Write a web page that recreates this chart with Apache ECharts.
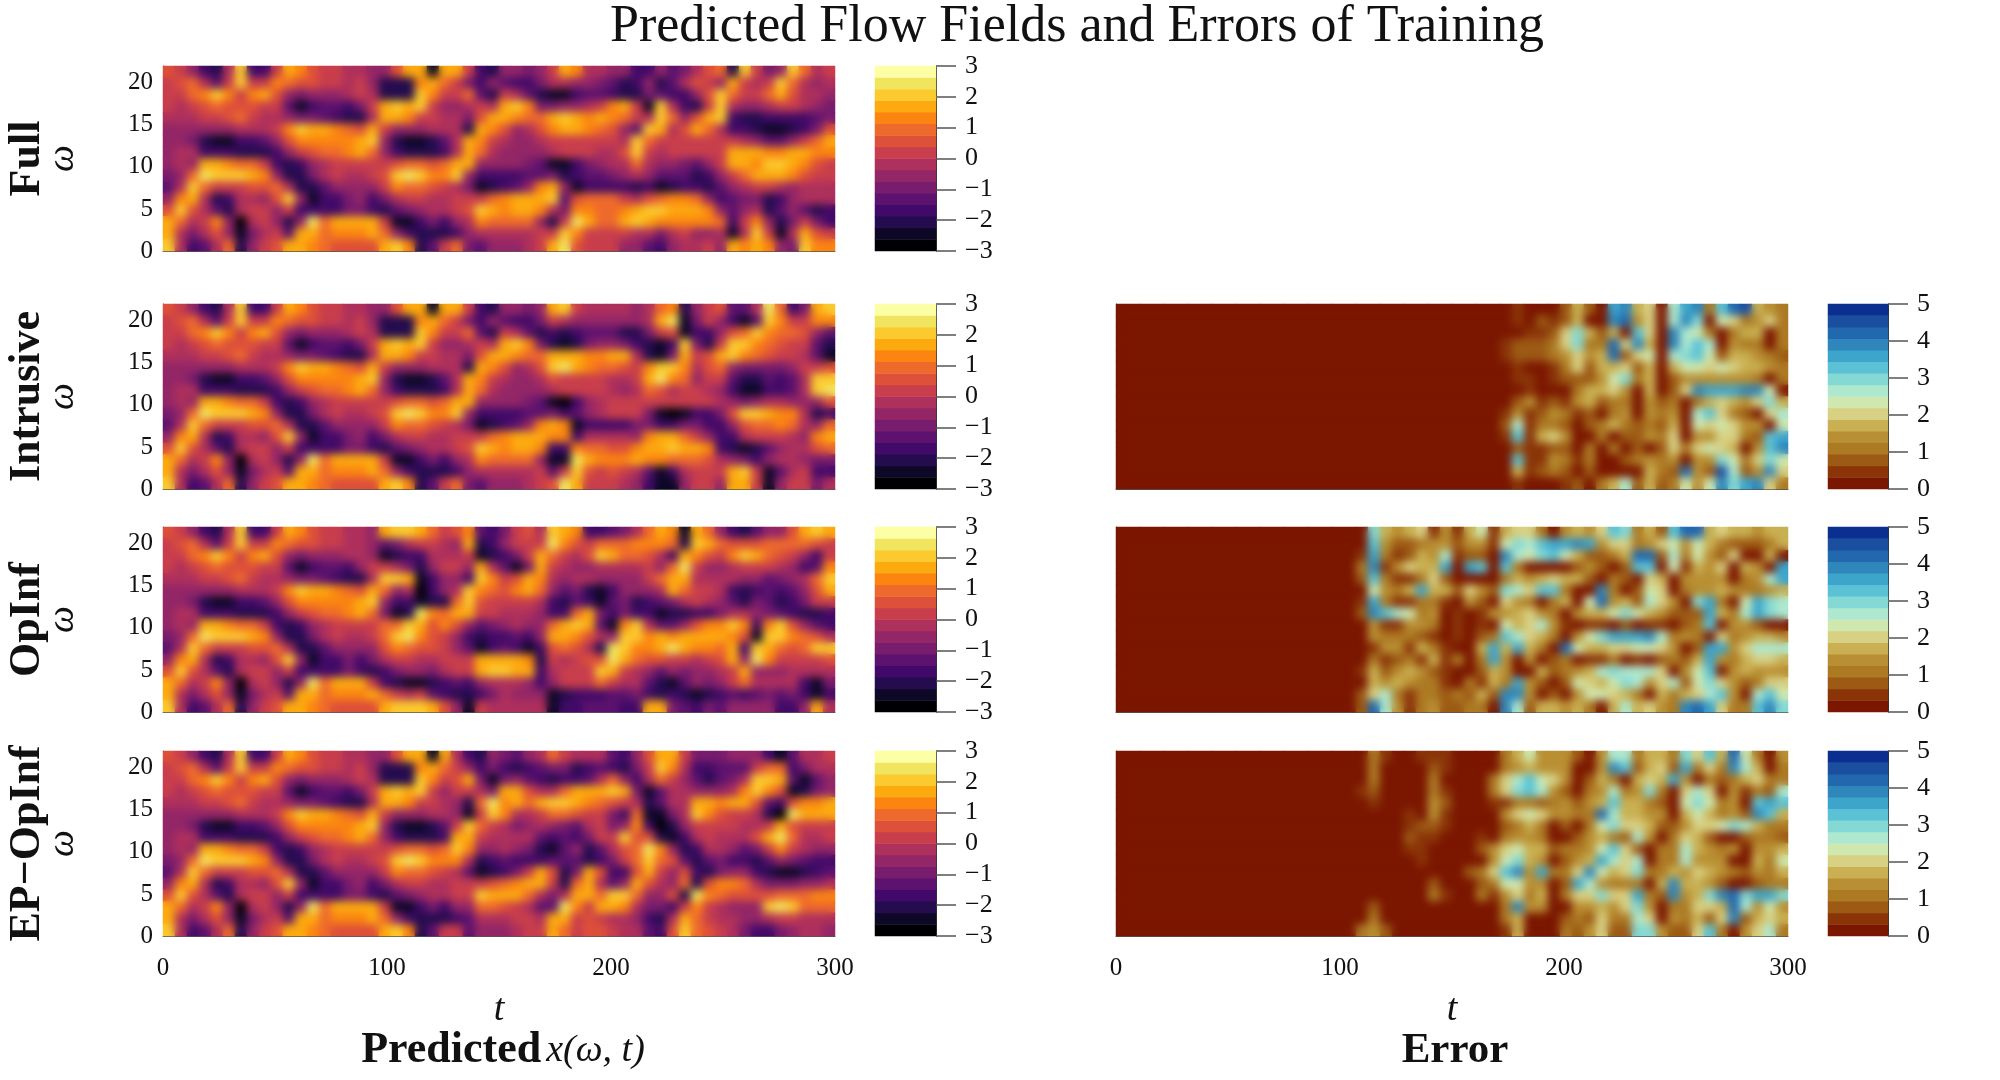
<!DOCTYPE html>
<html><head><meta charset="utf-8">
<style>html,body{margin:0;background:#fff}#c{width:2000px;height:1080px}</style>
<script src="https://cdn.jsdelivr.net/npm/echarts@6/dist/echarts.min.js"></script>
</head><body><div id="c"></div>
<script>
// Each character is one read-off contour level (0-f) of a 56 x 16 cell field, top row first.
const earlyShared=["986327d338cb9887","89a748d88ba99887","88abdb8bc9656667","8789a99988413443","777889a877655432","6666667778bdccba","66521133469bbbbb","6773332223689aab","676ccbaa83236788","56aedddcb6225787","47da88899a722466","6bc7237769d61335","9d97427886833335","ca78b6078626eacc","c7579615784ccabb","d7347a2689ccba99"];
const midFull=["7669cc1c","86222bca","87222db8","58cdcd86","27ccb887","9c866677","cd621124","ca632223","8889aa9a","789dedbb","668baa98","63578877","53245677","cc811353","bca63222","99cdb248"];
const lateFull=["c8326656","85364335","8a428742","6787cdb5","759ccbaa","72cb9679","7cb87667","7ca76666","cc666654","d6333344","7512346b","888abccc","89dcbccb","67baaaa6","36777778","a5466678"];
const tailFull=["8cb77663364579a2d856da78","776654236247986c878da767","11344322543369da88ac9776","56678bc81d7328d766788765","cdcbcba87da69cd322333345","bccba964dc79ca7332112359","8888887da8888888764468ac","7888779d8788888cccbbccbb","1135677a7665468ccbddcb98","5234456764442368acccb988","c61333323123324678876777","d49aaa879abba63455236777","75bbaabcddcccb6467246423","28ecaacdcbbbbba38b625853","8db88887757866717d817c98","ce9888664367786cbcb65dbb"];
const tailIntrusive=["cd8777767ab2689447ea35cd","876666667ce1586314db88bb","3234442258913369adbaa964","21256653213d528ddba98842","cccbbcc7215c89cdba988741","decbaa98bddb79a655556889","98888778ceba6884224347dd","78888767a9788763113347de","103678888888887656776669","5346788851013359ddcbb723","cb133335533553369aaba76a","bb377776bcca8633788876bc","33baa99bccdccb321246779a","11ecbbbcbbaaa97653677655","48d989874137888cd8147833","9ec888763116886cc8168857"];
const tailOpInf=["76cddca89b435897dcb33457acb1ca6324669cdc","764578876c236888eb98aaabbba2dca999aaaa98","761233777812358ca879dcaa973cb98bdca98638","6887526886c7415c8766777786ae86678887634b","27ddc13663db89cb767766668acc7777664567ad","9ca670367dba9bca6452136667ca88732343469c","cd633122ad988887324314523457876425423588","ca512ebacc88777633ac53533122335776543223","88aadc9b96456766acdc41bd74469bbdb3bd9643","78adeb9863233436ccb976ddbcbccccb91ddba97","669ba998641343139a972edbbcecbbac3dca9add","3578877888ccccb287899eca9988789c6eb88889","3235665788cddcc37888dc8764656678c6667777","c8321123436777636888a87742146568a7777315","bca8784322357666123334453232123434545313","99cdddc96187777713344433cc543546666336c7"];
const tailEP=["73265467a87774369cc8555666314778","86353234552343258db7334448aa3577","9c51564323347a637a8642457ddc4146","8875cc977acccdc514776667bdb91256","62aebcacddcba9872477ccbcc9439bbc","618db778aa98853a1157db988720eccc","8da875676547856b30268888778c9888","cc877774343588d99213787779cea778","db6676521462479aeb623776458b8766","b72343334442358ada94245332465433","7412358c925c9339c869325663211234","8889abcc82ac746c976a29bba7555667","88dccca757ccadda6692eba9999aaabb","66aa98744eb8ccb75538b87666dedaaa","34777887cc898776327ca87766788777","84666788ca899877439da98753356776"];
// Error fields: only the right-hand part is listed; everything to its left reads as level 0.
const errIntrusive=["0010002520bc5608bc3ade543","0010212500cd4608c90763463","000112695250a60c873035503","0122236933d6c50c8a8043303","0122234645d267089a7255432","0010013625562505776765543","0011012224793502444444303","00010003556405026cbbbcc70","0024121452330423035654695","014124312034043408a632068","0281332023532325076764407","01a15640030224360446632ab","00211220303020263676504ac","00a1143130023434044973697","00512320200005 32d42e824c6".replace(" ",""),"0010001203582523747c9bc63"];
const errOpInf=["095456141571566304546a9352add5655455","0a4223442441798abbcb4663467475322235","1b3125481220c879a752235dd28374260050","3c14655b0ba0a3000024202aa0715460540b","2a311362000035456552032065044440348b","07435b552642986aa300c302760344543345","1b311331042064303507d45286409b307b98","2ca87340101445643045579754222b538b98","04114430101075684101102011023a044200","043332101023a86530479bbbc83430634554","01441531005b5b530d75566776402bb46888","03123151303b40402301130102325b435665","15245421002540052345898886047a045444","05454331031 53b4202765798468 27964 2366","268313323252cc4020477653053568a408a7","2d8413422330c82554530585643cdb633ac9"].map(s=>s.replace(/ /g,""));
const errEP=["03100111000035744420488355396a5d7304","030000210000345444004ca2562b363c8503","03000030000368a76402530565b403235633","12000031000369a84203483493068604 1328","01000042000113323424 5a55320797340 aba","00001041000046764433d855440575342ca5","00001221000023530203796652246679 8533","000021100010344 3002453284036 5200 2332","00001100002467552334 7a62033854340445","00000100000479540245b868033844400537","000000000236ac4b336c7569335465432435","00000020002377440 2b843330 5c554200233","000000310031463 50366966b32c459cd9bb9","0200000000003c44004454694033665d8474","0300000000003500023263386043526c2565","342000000000150003246229 94226a304683"].map(s=>s.replace(/ /g,""));

const fieldMid=[-2.81,-2.44,-2.06,-1.69,-1.31,-0.94,-0.56,-0.19,0.19,0.56,0.94,1.31,1.69,2.06,2.44,2.81];
const errorMid=[0.16,0.47,0.78,1.09,1.41,1.72,2.03,2.34,2.66,2.97,3.28,3.59,3.91,4.22,4.53,4.84];
const infernoBands=["#000004","#0c0826","#240c4f","#420a68","#5c126e","#781c6d","#932667","#ae305c","#c83e4c","#dd5039","#ee6a2c","#fb8510","#fcaa0f","#fbca2e","#f1e55f","#fcffa4"];
const earthBands=["#7b1600","#8a3408","#9c5a14","#ad7a24","#b98f33","#c9b052","#d8d083","#cfe8b0","#aee8cf","#84d9d5","#5bc2d5","#3da5cc","#2f86ba","#2268ae","#1a4fa0","#0a2f8f"];
const rowNames=["Full","Intrusive","OpInf","EP\u2212OpInf"];
const rowTops=[66,304,527,751];
const fieldTicks={min:-3,max:3,interval:1};
const errorTicks={min:0,max:5,interval:1};

const COLS=56,ROWS=16,W=672,H=185,SER='"Liberation Serif",serif';
const join=(...a)=>a[0].map((_,r)=>a.map(x=>x[r]).join(''));
const panels=[
 {row:0,left:163,rows:join(earlyShared,midFull,lateFull,tailFull),mid:fieldMid},
 {row:1,left:163,rows:join(earlyShared,midFull,lateFull,tailIntrusive),mid:fieldMid},
 {row:2,left:163,rows:join(earlyShared,tailOpInf),mid:fieldMid},
 {row:3,left:163,rows:join(earlyShared,midFull,tailEP),mid:fieldMid},
 {row:1,left:1116,rows:errIntrusive,mid:errorMid},
 {row:2,left:1116,rows:errOpInf,mid:errorMid},
 {row:3,left:1116,rows:errEP,mid:errorMid}
];
const idx=[...Array(COLS).keys()], idy=[...Array(ROWS).keys()];
const grid=[],xAxis=[],yAxis=[],series=[],fieldSer=[],errSer=[],clip=[];
const tl={fontFamily:SER,fontSize:25,color:'#111'};
panels.forEach(p=>{
  const g=grid.length, top=rowTops[p.row], bottom=p.row===3;
  grid.push({left:p.left,top,width:W,height:H});
  clip.push(`M${p.left} ${top}H${p.left+W}V${top+H}H${p.left}Z`);
  xAxis.push({type:'category',gridIndex:g,data:idx,show:false},
   {type:'value',gridIndex:g,min:0,max:300,interval:100,position:'bottom',show:true,
    axisLine:{show:true,onZero:false,lineStyle:{color:'#555',width:1}},axisTick:{show:false},splitLine:{show:false},
    axisLabel:{show:bottom,margin:20,...tl},
    name:bottom?'t':'',nameLocation:'middle',nameGap:55,nameTextStyle:{fontFamily:SER,fontStyle:'italic',fontSize:38,color:'#111'}});
  const isLeft=p.left===163;
  yAxis.push({type:'category',gridIndex:g,data:idy,show:false},
   {type:'value',gridIndex:g,min:0,max:22,interval:5,position:'left',show:true,
    axisLine:{show:true,onZero:false,lineStyle:{color:'#555',width:1}},axisTick:{show:false},splitLine:{show:false},
    axisLabel:{show:isLeft,margin:10,...tl,formatter:v=>v===22?'':String(v)},
    name:isLeft?'\u03c9':'',nameLocation:'middle',nameGap:81,nameTextStyle:{fontFamily:SER,fontStyle:'italic',fontSize:38,color:'#111'}});
  const data=[];
  p.rows.forEach((s,r)=>{ s=s.padStart(COLS,'0'); for(let c=0;c<COLS;c++) data.push([c,ROWS-1-r,p.mid[parseInt(s[c],16)]]); });
  [0,1].forEach(z=>{
    (p.mid===fieldMid?fieldSer:errSer).push(series.length);
    series.push({type:'heatmap',xAxisIndex:2*g,yAxisIndex:2*g,data,zlevel:z,progressive:0,silent:true,emphasis:{disabled:true}});
  });
});
// colour bars
rowTops.forEach((top,ri)=>{
  [[875,fieldMid,fieldTicks],[1828,errorMid,errorTicks]].forEach(([left,mid,t])=>{
    if(ri===0&&left===1828) return;
    const g=grid.length;
    grid.push({left,top,width:left===875?61:60,height:H});
    xAxis.push({type:'category',gridIndex:g,data:[0],show:false});
    yAxis.push({type:'category',gridIndex:g,data:idy,show:false},
     {type:'value',gridIndex:g,...t,position:'right',show:true,
      axisLine:{show:true,onZero:false,lineStyle:{color:'#333',width:1}},
      axisTick:{show:true,length:20,lineStyle:{color:'#555',width:1.5}},splitLine:{show:false},
      axisLabel:{margin:29,align:'left',...tl,fontSize:26,formatter:v=>String(v).replace('-','\u2212')}});
    const xi=xAxis.length-1, yi=yAxis.length-2;
    (mid===fieldMid?fieldSer:errSer).push(series.length);
    series.push({type:'heatmap',xAxisIndex:xi,yAxisIndex:yi,data:mid.map((v,i)=>[0,i,v]),progressive:0,silent:true,emphasis:{disabled:true}});
  });
});
const pieces=(lo,step,cols)=>cols.map((color,i)=>({min:lo+i*step,max:lo+(i+1)*step,color}));
const rowLabels=rowNames.map((n,i)=>({type:'text',x:28,y:rowTops[i]+H/2,rotation:Math.PI/2,
  style:{text:n,fontFamily:SER,fontWeight:'bold',fontSize:44,fill:'#111',align:'center',verticalAlign:'middle',textAlign:'center',textVerticalAlign:'middle'}}));
const option={animation:false,backgroundColor:'#fff',
 title:[
  {text:'Predicted Flow Fields and Errors of Training',left:1072,top:-4,textAlign:'center',textStyle:{fontFamily:SER,fontWeight:'normal',fontSize:52,color:'#111'}},
  {text:'{b|Predicted} {i|x(\u03c9, t)}',left:498,top:1024,textAlign:'center',textStyle:{fontWeight:'normal',rich:{b:{fontFamily:SER,fontWeight:'bold',fontSize:44,color:'#111'},i:{fontFamily:SER,fontWeight:'normal',fontStyle:'italic',fontSize:38,color:'#111'}}}},
  {text:'Error',left:1450,top:1024,textAlign:'center',textStyle:{fontFamily:SER,fontWeight:'bold',fontSize:43,color:'#111'}}
 ],
 grid,xAxis,yAxis,series,
 visualMap:[
  {type:'piecewise',show:false,seriesIndex:fieldSer,dimension:2,pieces:pieces(-3,0.375,infernoBands)},
  {type:'piecewise',show:false,seriesIndex:errSer,dimension:2,pieces:pieces(0,0.3125,earthBands)}
 ],
 graphic:rowLabels
};
const chart=echarts.init(document.getElementById('c'),null,{renderer:'canvas',width:2000,height:1080});
chart.setOption(option);
const soften=()=>{const cv=document.querySelector('#c canvas[data-zr-dom-id="zr_1"]');
  if(cv){cv.style.filter='blur(4.5px)';cv.style.clipPath=`path("${clip.join('')}")`;}};
soften();chart.on('finished',soften);
</script></body></html>
